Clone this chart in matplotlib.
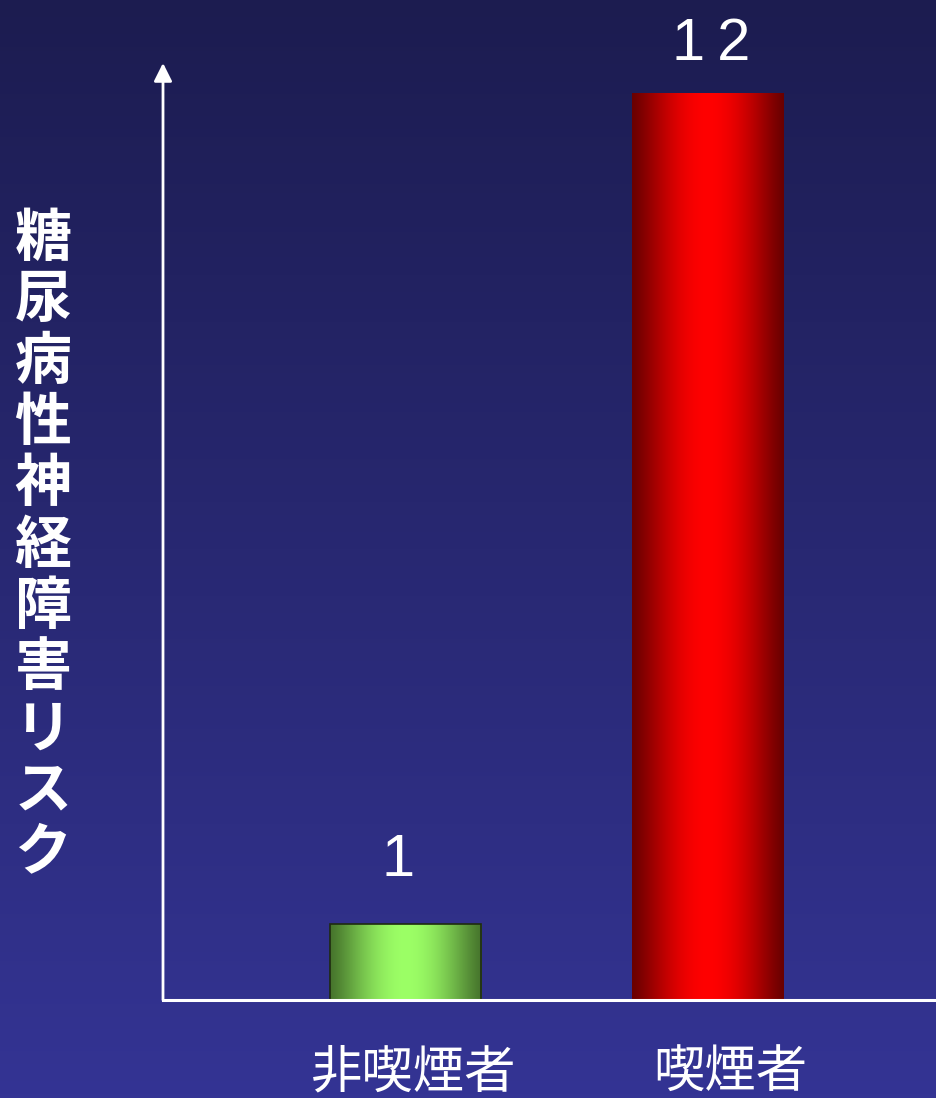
import numpy as np
import matplotlib
matplotlib.use("Agg")
import matplotlib.pyplot as plt
from matplotlib.colors import LinearSegmentedColormap
from matplotlib.transforms import offset_copy

plt.rcParams['font.family'] = ['Noto Sans CJK JP', 'DejaVu Sans']

# data
categories = ["非喫煙者", "喫煙者"]
risk_values = [1, 12]
value_labels = ["1", "12"]
y_label = "糖尿病性神経障害リスク"

W, H, DPI = 937, 1098, 100
fig = plt.figure(figsize=(W / DPI, H / DPI), dpi=DPI)

# background: vertical gradient from dark navy to blue
bg = fig.add_axes([0, 0, 1, 1], zorder=-10)
bg_cmap = LinearSegmentedColormap.from_list("bg", ["#343494", "#1c1c50"])
grad = np.linspace(0, 1, 256).reshape(-1, 1)
bg.imshow(grad, cmap=bg_cmap, aspect="auto", origin="lower", extent=[0, 1, 0, 1])
bg.set_axis_off()

# plotting area in pixels
x0, x1 = 163, 937
y_base, y_top = 1000, 63
ax = fig.add_axes([x0 / W, (H - y_base) / H, (x1 - x0) / W, (y_base - y_top) / H])
ax.patch.set_alpha(0)

px_per_unit = 75.6
px_per_cat = 302.5
first_center = 405.5
xlim = (-(first_center - x0) / px_per_cat, (x1 - first_center) / px_per_cat)
ylim = (0, (y_base - y_top) / px_per_unit)
for s in ax.spines.values():
    s.set_visible(False)
ax.set_xticks([])
ax.set_yticks([])

# axes lines: y-axis with arrow, x-axis to the right edge
ax.annotate("", xy=(0, 1.0), xytext=(0, 0), xycoords="axes fraction",
            arrowprops=dict(arrowstyle="-|>,head_length=1.1,head_width=0.55",
                            color="white", lw=2, shrinkA=0, shrinkB=0),
            annotation_clip=False)
ax.plot([0, 1], [0, 0], transform=ax.transAxes, color="white", lw=2.2,
        clip_on=False, zorder=5)

# cylinder-like horizontal shading
def shade(edge, mid, n=256):
    t = np.linspace(0, 1, n)
    w = np.sin(np.pi * t) ** 1.2
    e = np.array(matplotlib.colors.to_rgb(edge))
    m = np.array(matplotlib.colors.to_rgb(mid))
    return (e[None, :] * (1 - w[:, None]) + m[None, :] * w[:, None])[None, :, :]

bar_styles = [
    dict(edge="#46742c", mid="#9cff66", outline="#1e2a10", lw=1.2),
    dict(edge="#6a0000", mid="#ff0000", outline="none", lw=0),
]
bar_width = 0.5
bars = ax.bar(range(len(categories)), risk_values, width=bar_width, color="none",
              zorder=3)
for b, st in zip(bars, bar_styles):
    xl, yl = b.get_x(), b.get_y()
    img = ax.imshow(shade(st["edge"], st["mid"]), aspect="auto",
                    extent=[xl, xl + b.get_width(), yl, yl + b.get_height()],
                    zorder=2)
    img.set_clip_path(b)
    b.set_edgecolor(st["outline"])
    b.set_linewidth(st["lw"])
ax.set_xlim(*xlim)
ax.set_ylim(*ylim)

# value labels above the bars (digits set slightly apart)
label_gap_px = [48, 33]
label_dx_px = [-7, 3]
for i, (v, lab) in enumerate(zip(risk_values, value_labels)):
    tr = offset_copy(ax.transData, fig=fig, x=label_dx_px[i] * 72 / DPI,
                     y=label_gap_px[i] * 72 / DPI, units="points")
    ax.text(i, v, "\u2009".join(lab), transform=tr, ha="center", va="baseline",
            color="white", fontsize=43,
            family=["Liberation Sans", "DejaVu Sans"], clip_on=False)

# category labels under the axis
cat_dx_px = [8, 22]
for i, c in enumerate(categories):
    tr = offset_copy(ax.transData, fig=fig, x=cat_dx_px[i] * 72 / DPI,
                     y=3 * 72 / DPI, units="points")
    ax.text(i, -1.0, c, transform=tr, ha="center", va="center", color="white",
            fontsize=37, clip_on=False)

# vertical stacked y-axis title
top_px, step_px = 239, 61.3
for k, ch in enumerate(y_label):
    fig.text(43 / W, 1 - (top_px + k * step_px) / H, ch, ha="center", va="center",
             color="white", fontsize=41, fontweight="bold")

fig.savefig("out.png", dpi=DPI)
